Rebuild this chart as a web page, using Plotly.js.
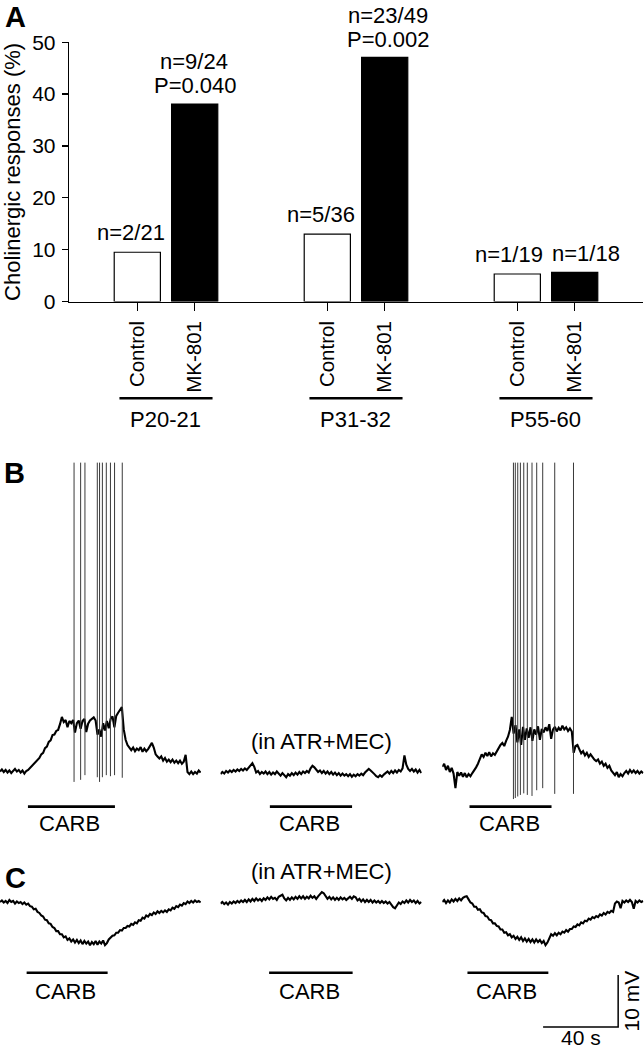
<!DOCTYPE html>
<html><head><meta charset="utf-8">
<script src="https://cdn.plot.ly/plotly-3.0.1.min.js"></script>
<style>html,body{margin:0;padding:0;background:#fff}#chart{width:644px;height:1050px}</style>
</head><body><div id="chart"></div>
<script>
// ---------- Panel A data ----------
const ageGroups = ["P20-21", "P31-32", "P55-60"];
const conditions = ["Control", "MK-801"];
const controlPct = [9.5, 13.0, 5.3];
const mk801Pct = [38.1, 47.1, 5.6];
const controlN = ["n=2/21", "n=5/36", "n=1/19"];
const mk801N = ["n=9/24", "n=23/49", "n=1/18"];
const mk801P = ["P=0.040", "P=0.002", ""];
const yTicks = [0, 10, 20, 30, 40, 50];

// ---------- Panels B and C data (membrane potential, mV, sampled every 1 s) ----------
const sampleInterval = 1; // s
const sweepB1 = [
-60.1,-59.7,-60.2,-59.8,-60.3,-59.9,-60.4,-60.0,-59.6,-60.1,
-59.8,-60.3,-59.9,-60.5,-60.0,-59.8,-59.4,-59.1,-58.6,-58.4,
-57.8,-57.5,-56.8,-56.5,-55.6,-55.3,-54.4,-54.1,-53.1,-53.0,
-52.3,-52.1,-51.0,-49.6,-50.6,-50.2,-51.6,-50.4,-50.8,-50.2,
-52.6,-50.8,-50.3,-51.9,-50.4,-50.0,-52.5,-50.9,-50.3,-49.9,
-49.7,-50.3,-53.0,-52.0,-53.4,-50.8,-52.2,-50.4,-51.8,-50.0,
-49.5,-51.6,-49.4,-48.8,-48.1,-47.7,-52.0,-54.0,-55.0,-55.6,
-56.0,-55.5,-56.2,-55.7,-56.0,-55.4,-56.3,-55.7,-56.2,-55.8,
-55.2,-54.6,-55.5,-56.8,-57.2,-57.6,-57.2,-58.0,-57.5,-58.2,
-57.8,-58.3,-57.8,-58.4,-58.0,-58.5,-58.0,-58.6,-58.2,-56.9,
-60.2,-60.6,-60.1,-60.6,-60.2,-60.5,-59.9,-60.3];
const sweepB2 = [
-60.6,-60.2,-60.5,-60.0,-60.3,-59.9,-60.2,-59.8,-60.1,-59.7,
-60.0,-59.6,-59.9,-59.5,-59.8,-59.3,-58.8,-58.5,-59.2,-60.3,
-60.0,-60.6,-60.2,-60.5,-60.1,-60.6,-60.2,-60.7,-60.3,-60.6,
-60.1,-60.5,-60.9,-60.4,-60.8,-61.2,-60.6,-60.9,-60.4,-60.8,
-60.3,-60.7,-60.2,-60.6,-60.1,-60.4,-60.0,-60.3,-59.5,-59.0,
-59.3,-59.8,-60.2,-59.9,-60.4,-60.0,-60.5,-60.1,-60.6,-60.2,
-60.7,-60.3,-60.8,-60.4,-60.9,-60.5,-60.9,-60.6,-61.0,-60.6,
-61.1,-60.7,-61.0,-60.6,-60.9,-60.5,-60.8,-60.3,-60.0,-59.6,
-59.9,-60.2,-60.6,-61.0,-61.2,-60.8,-61.1,-60.7,-60.4,-60.1,
-60.5,-60.0,-60.4,-59.9,-60.3,-59.8,-60.1,-59.5,-57.0,-58.8,
-59.6,-60.0,-59.6,-60.1,-59.7,-60.3,-59.8,-60.4];
const sweepB3 = [
-59.2,-58.6,-59.8,-59.0,-60.2,-59.4,-60.5,-63.3,-60.2,-60.9,
-60.3,-61.1,-60.4,-61.2,-60.6,-61.0,-60.4,-59.9,-59.3,-58.6,
-57.5,-56.8,-57.3,-56.5,-57.1,-56.4,-57.2,-56.6,-56.9,-56.2,
-55.6,-55.0,-54.6,-55.2,-54.2,-53.4,-52.1,-49.6,-52.8,-51.2,
-54.5,-52.0,-55.0,-51.5,-54.0,-51.8,-53.6,-51.6,-54.2,-52.0,
-53.0,-51.4,-54.0,-51.9,-52.6,-51.6,-52.3,-51.0,-53.8,-52.0,
-51.5,-52.4,-51.7,-52.2,-51.3,-52.0,-51.6,-52.3,-51.8,-52.4,
-56.5,-55.2,-55.0,-56.0,-56.6,-56.2,-57.0,-56.5,-57.3,-56.8,
-57.4,-57.8,-58.1,-57.8,-58.6,-58.2,-59.0,-58.6,-59.4,-59.0,
-59.9,-60.3,-60.8,-60.2,-61.2,-60.6,-61.0,-60.4,-60.0,-60.5,
-59.8,-60.3,-59.9,-60.4,-60.0,-60.5,-60.1,-60.4];
const spikeTimesB1 = [39.5, 43.0, 45.3, 51.9, 53.1, 54.6, 56.7, 58.9, 61.1, 65.2];
const spikeTroughB1 = [-62.1, -61.7, -60.8, -61.2, -62.1, -61.2, -60.8, -61.0, -60.8, -61.3];
const spikePeakB1 = [-0.7, -0.7, -0.7, -0.7, -0.7, -0.7, -0.7, -0.7, -0.7, -0.7];
const spikeTimesB3 = [37.9, 38.9, 40.2, 41.6, 43.4, 45.3, 47.8, 50.3, 53.5, 59.9, 69.9];
const spikeTroughB3 = [-65.4, -65.2, -64.9, -64.6, -64.3, -64.6, -64.8, -63.7, -63.3, -64.4, -64.4];
const spikePeakB3 = [-0.7, -0.7, -0.7, -0.7, -0.7, -0.7, -0.7, -0.7, -0.7, -0.7, -0.7];

const sweepC1 = [
-60.0,-59.7,-60.1,-59.8,-60.2,-59.6,-60.0,-59.8,-60.3,-59.9,
-60.2,-60.0,-60.4,-60.1,-60.5,-60.3,-60.8,-60.9,-61.4,-61.3,
-61.9,-62.1,-62.6,-62.8,-63.4,-63.5,-64.1,-64.2,-64.8,-65.0,
-65.6,-65.6,-66.2,-66.2,-66.8,-66.6,-67.3,-67.0,-67.6,-67.2,
-67.8,-67.3,-67.9,-67.4,-68.1,-67.5,-68.0,-67.6,-68.3,-67.7,
-68.1,-67.5,-68.2,-67.6,-68.0,-67.4,-68.3,-67.9,-67.2,-66.9,
-66.5,-66.4,-65.9,-65.9,-65.4,-65.5,-65.0,-65.0,-64.6,-64.7,
-64.2,-64.4,-63.9,-64.1,-63.5,-63.6,-63.0,-63.2,-62.6,-62.8,
-62.3,-62.5,-62.0,-62.3,-61.8,-62.1,-61.7,-62.0,-61.6,-61.9,
-61.4,-61.6,-61.1,-61.3,-60.8,-61.0,-60.5,-60.7,-60.2,-60.4,
-59.9,-60.2,-59.8,-60.1,-59.7,-60.0,-59.8,-60.1];
const sweepC2 = [
-60.3,-60.0,-60.4,-60.1,-60.5,-60.0,-60.3,-59.9,-60.2,-59.8,
-60.1,-59.7,-60.0,-59.6,-60.0,-59.5,-59.9,-59.4,-59.8,-59.3,
-59.7,-59.4,-59.8,-59.3,-59.6,-59.1,-59.5,-59.0,-59.4,-59.2,
-59.6,-59.0,-58.8,-58.6,-59.3,-59.7,-59.2,-59.6,-59.1,-59.5,
-59.0,-59.4,-58.9,-59.3,-58.9,-59.4,-59.0,-59.3,-58.8,-59.2,
-58.9,-59.4,-58.9,-58.5,-58.1,-58.3,-58.9,-59.4,-59.0,-59.5,
-59.1,-59.6,-59.2,-59.6,-59.1,-59.5,-59.2,-59.6,-59.3,-59.0,
-59.4,-58.9,-59.1,-59.7,-59.4,-59.9,-59.5,-60.0,-59.6,-60.0,
-59.6,-60.1,-59.7,-60.1,-59.8,-60.2,-59.8,-60.2,-59.9,-60.3,
-60.0,-60.5,-61.0,-61.2,-60.6,-60.1,-60.4,-59.9,-60.2,-59.7,
-60.1,-59.6,-60.0,-59.7,-60.2,-59.8,-60.3,-60.0];
const sweepC3 = [
-60.0,-59.6,-60.2,-59.7,-60.1,-59.5,-59.9,-59.4,-59.8,-59.3,
-59.7,-59.2,-59.0,-58.9,-59.5,-60.1,-60.3,-60.9,-60.9,-61.5,
-61.4,-62.0,-62.1,-62.7,-62.8,-63.4,-63.5,-64.1,-64.1,-64.6,
-64.7,-65.3,-65.3,-65.9,-65.8,-66.4,-66.2,-66.8,-66.5,-67.1,
-66.7,-67.3,-66.8,-67.5,-67.0,-67.6,-67.1,-67.7,-67.2,-67.8,
-67.2,-67.7,-67.3,-67.9,-67.5,-68.3,-67.8,-66.8,-66.2,-66.5,
-66.0,-66.4,-65.9,-66.2,-65.7,-65.9,-65.4,-65.7,-65.2,-65.2,
-64.7,-64.8,-64.3,-64.5,-63.9,-64.1,-63.6,-63.7,-63.2,-63.4,
-62.9,-63.1,-62.7,-62.9,-62.4,-62.6,-62.1,-62.4,-61.9,-62.1,
-61.7,-61.9,-60.3,-59.9,-60.1,-61.2,-59.8,-60.1,-59.7,-60.0,
-59.6,-60.0,-61.3,-59.8,-60.1,-59.7,-60.0,-59.8];

// carbachol application periods (s, from sweep start)
const carbB = [[14.9, 61.3], [26.3, 70.1], [14.5, 58.2]];
const carbC = [[14.2, 57.4], [25.9, 70.4], [13.4, 56.5]];
const drugLabel = "CARB";
const blockerLabel = "(in ATR+MEC)";
const scaleBarSeconds = 40;
const scaleBarMV = 10;

// ---------- geometry / style ----------
const W = 644, H = 1050;
const px = v => v / W, py = v => 1 - v / H;
const FONT = "Liberation Sans, Arial, Helvetica, sans-serif";
const barOffset = 0.151, barWidth = 0.243;
const sweepDomains = [[0, 201], [220.5, 421.7], [442.3, 643.5]];
const sweepRange = [0, 107.2];
const TRACE_W = 2.1;

const traces = [];
// Panel A bars
traces.push({type: 'bar', name: conditions[0], x: ageGroups.map((g, i) => i - barOffset), y: controlPct,
  width: barWidth, marker: {color: '#fff', line: {color: '#000', width: 1.2}}, xaxis: 'x', yaxis: 'y', hoverinfo: 'skip'});
traces.push({type: 'bar', name: conditions[1], x: ageGroups.map((g, i) => i + barOffset), y: mk801Pct,
  width: barWidth, marker: {color: '#000', line: {color: '#000', width: 1.2}}, xaxis: 'x', yaxis: 'y', hoverinfo: 'skip'});

function sweepTrace(vals, xa, ya) {
  return {type: 'scatter', mode: 'lines', x: vals.map((v, i) => i * sampleInterval), y: vals,
    line: {color: '#000', width: TRACE_W}, xaxis: xa, yaxis: ya, hoverinfo: 'skip'};
}
function spikeTrace(times, troughs, peaks, xa, ya) {
  const xs = [], ys = [];
  times.forEach((t, i) => { xs.push(t, t, null); ys.push(troughs[i], peaks[i], null); });
  return {type: 'scatter', mode: 'lines', x: xs, y: ys, line: {color: '#3a3a3a', width: 1}, xaxis: xa, yaxis: ya, hoverinfo: 'skip'};
}
traces.push(sweepTrace(sweepB1, 'x2', 'y2'));
traces.push(spikeTrace(spikeTimesB1, spikeTroughB1, spikePeakB1, 'x2', 'y2'));
traces.push(sweepTrace(sweepB2, 'x3', 'y2'));
traces.push(sweepTrace(sweepB3, 'x4', 'y2'));
traces.push(spikeTrace(spikeTimesB3, spikeTroughB3, spikePeakB3, 'x4', 'y2'));
traces.push(sweepTrace(sweepC1, 'x5', 'y3'));
traces.push(sweepTrace(sweepC2, 'x6', 'y3'));
traces.push(sweepTrace(sweepC3, 'x7', 'y3'));

// scale bar (C, third sweep)
const sbX = 93.7, sbY = -84.04;
traces.push({type: 'scatter', mode: 'lines', x: [sbX - scaleBarSeconds, sbX, sbX], y: [sbY, sbY, sbY + scaleBarMV],
  line: {color: '#000', width: 1.5}, xaxis: 'x7', yaxis: 'y3', hoverinfo: 'skip'});

const hidden = {visible: false, fixedrange: true};
const layout = {
  width: W, height: H, margin: {l: 0, r: 0, t: 0, b: 0}, showlegend: false,
  paper_bgcolor: '#fff', plot_bgcolor: 'rgba(0,0,0,0)',
  font: {family: FONT, size: 22, color: '#000'},
  xaxis: {domain: [px(69), px(642.7)], range: [-0.5105, 2.509], anchor: 'y', showline: true, linecolor: '#000', linewidth: 1.3,
    ticks: 'outside', ticklen: 8, tickwidth: 1.3, tickcolor: '#000',
    tickvals: ageGroups.flatMap((g, i) => [i - barOffset, i + barOffset]),
    ticktext: ageGroups.flatMap(() => conditions), tickangle: -90, tickfont: {size: 20.5}, ticklabelstandoff: 2,
    showgrid: false, zeroline: false, fixedrange: true},
  yaxis: {domain: [py(301.5), py(42.3)], range: [0, 50], anchor: 'x', showline: true, linecolor: '#000', linewidth: 1.3,
    ticks: 'outside', ticklen: 6, tickwidth: 1.3, tickcolor: '#000', tickvals: yTicks, tickfont: {size: 21}, ticklabelstandoff: 2,
    title: {text: 'Cholinergic responses (%)', font: {size: 22}, standoff: 8},
    showgrid: false, zeroline: false, fixedrange: true},
  yaxis2: Object.assign({domain: [py(835), py(455)], range: [-72.31, 0.77], anchor: 'x2'}, hidden),
  yaxis3: Object.assign({domain: [0, py(860)], range: [-88.46, -51.92], anchor: 'x5'}, hidden),
  shapes: [], annotations: []
};
['x2', 'x3', 'x4'].forEach((a, i) => {
  layout['xaxis' + a.slice(1)] = Object.assign({domain: [px(sweepDomains[i][0]), px(sweepDomains[i][1])], range: sweepRange, anchor: 'y2'}, hidden);
});
['x5', 'x6', 'x7'].forEach((a, i) => {
  layout['xaxis' + a.slice(1)] = Object.assign({domain: [px(sweepDomains[i][0]), px(sweepDomains[i][1])], range: sweepRange, anchor: 'y3'}, hidden);
});

const ann = layout.annotations, shp = layout.shapes;
// Panel letters
[['A', 15, 17], ['B', 14, 473], ['C', 15, 878]].forEach(([t, x, y]) => ann.push({text: '<b>' + t + '</b>', xref: 'paper', yref: 'paper',
  x: px(x), y: py(y), xanchor: 'center', yanchor: 'middle', showarrow: false, font: {size: 29, family: FONT}}));

// Panel A value labels
const ctrlShiftX = [-6.5, -6.6, -8.7], mkShiftX = [-0.5, 3, 11.5];
ageGroups.forEach((g, i) => {
  ann.push({text: controlN[i], x: i - barOffset, y: controlPct[i], xref: 'x', yref: 'y', showarrow: false,
    xanchor: 'center', yanchor: 'middle', yshift: 19.5, xshift: ctrlShiftX[i]});
  if (mk801P[i]) {
    ann.push({text: mk801N[i], x: i + barOffset, y: mk801Pct[i], xref: 'x', yref: 'y', showarrow: false,
      xanchor: 'center', yanchor: 'middle', yshift: 42, xshift: mkShiftX[i]});
    ann.push({text: mk801P[i], x: i + barOffset, y: mk801Pct[i], xref: 'x', yref: 'y', showarrow: false,
      xanchor: 'center', yanchor: 'middle', yshift: 18, xshift: mkShiftX[i] + 1});
  } else {
    ann.push({text: mk801N[i], x: i + barOffset, y: mk801Pct[i], xref: 'x', yref: 'y', showarrow: false,
      xanchor: 'center', yanchor: 'middle', yshift: 19, xshift: mkShiftX[i]});
  }
  // group underline and label
  shp.push({type: 'line', xref: 'x', yref: 'paper', x0: i - 0.245, x1: i + 0.245, y0: py(398.3), y1: py(398.3), line: {color: '#000', width: 2.6}});
  ann.push({text: g, x: i, y: py(419), xref: 'x', yref: 'paper', showarrow: false, xanchor: 'center', yanchor: 'middle'});
});

// CARB bars and labels
const carbSets = [[carbB, ['x2', 'x3', 'x4'], 'y2', -66.87, -70.19], [carbC, ['x5', 'x6', 'x7'], 'y3', -73.6, -77.25]];
carbSets.forEach(([periods, xas, ya, barY, labY]) => {
  periods.forEach((p, i) => {
    shp.push({type: 'line', xref: xas[i], yref: ya, x0: p[0], x1: p[1], y0: barY, y1: barY, line: {color: '#000', width: 2.7}});
    ann.push({text: drugLabel, x: (p[0] + p[1]) / 2, y: labY, xref: xas[i], yref: ya, showarrow: false,
      xanchor: 'center', yanchor: 'middle', xshift: -1.5});
  });
});
// blocker labels
ann.push({text: blockerLabel, x: 53.8, y: -54.4, xref: 'x3', yref: 'y2', showarrow: false, xanchor: 'center', yanchor: 'middle'});
ann.push({text: blockerLabel, x: 53.8, y: -54.04, xref: 'x6', yref: 'y3', showarrow: false, xanchor: 'center', yanchor: 'middle'});
// scale bar labels
ann.push({text: scaleBarSeconds + ' s', x: sbX - scaleBarSeconds / 2, y: 0, xref: 'x7', yref: 'paper', showarrow: false,
  xanchor: 'center', yanchor: 'bottom', font: {size: 21}, borderpad: 0});
ann.push({text: scaleBarMV + ' mV', x: 1, y: sbY + scaleBarMV / 2, xref: 'paper', yref: 'y3', showarrow: false,
  xanchor: 'right', yanchor: 'middle', textangle: -90, font: {size: 21}, borderpad: 0});

Plotly.newPlot('chart', traces, layout, {staticPlot: true, displayModeBar: false});
</script></body></html>
